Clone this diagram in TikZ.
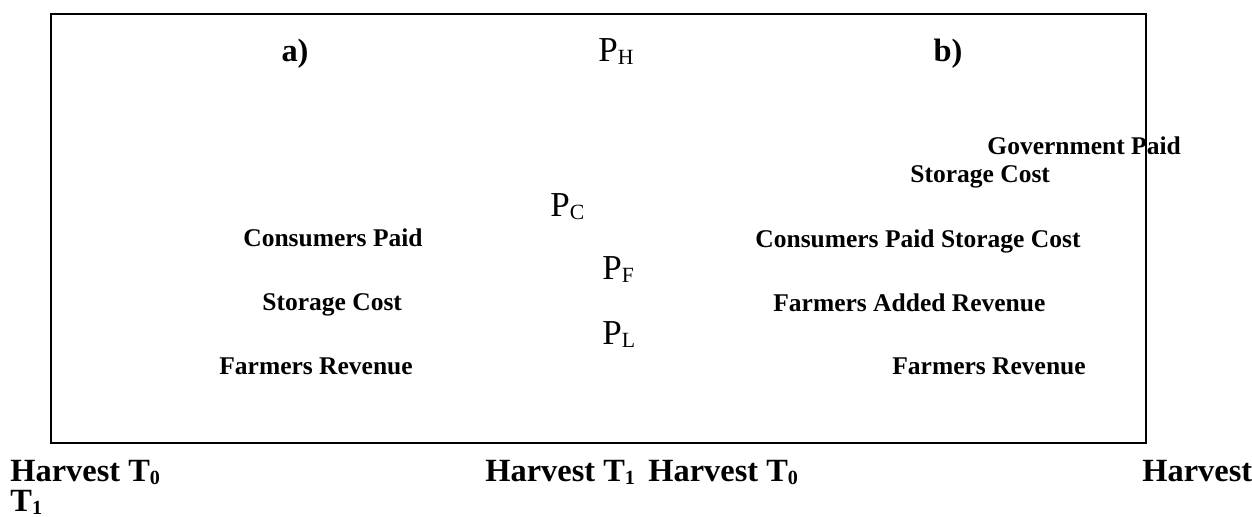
\documentclass[tikz,border=0pt]{standalone}
\usepackage{fontspec}
\setmainfont{Liberation Serif}
\usetikzlibrary{positioning}
\newcommand{\ind}[1]{\raisebox{-0.08em}{\scalebox{0.62}{#1}}}
\tikzset{
    etiqueta/.style={inner sep=0pt, anchor=base west, font=\fontsize{12.75}{15}\selectfont\bfseries},
    eixo/.style={inner sep=0pt, anchor=base west, font=\fontsize{16.2}{19}\selectfont\bfseries},
    preco/.style={inner sep=0pt, anchor=base west, font=\fontsize{17.5}{20}\selectfont},
}

\begin{document}
\begin{tikzpicture}[x=0.5pt, y=-0.5pt]
\useasboundingbox (0,0) rectangle (1252,517);
% frame
\draw[line width=0.75pt] (51,14) rectangle (1146,443);
% panel titles
\node[eixo, anchor=base] (tita) at (295,62) {a)};
\node[eixo, anchor=base] (titb) at (948,62) {b)};
% prices
\node[preco] (pH) at (598,62) {P\ind{H}};
\node[preco] (pC) at (550,217) {P\ind{C}};
\node[preco] (pF) at (602,280) {P\ind{F}};
\node[preco] (pL) at (602,345) {P\ind{L}};
% a)
\node[etiqueta] (consA) at (243,247) {Consumers Paid};
\node[etiqueta] (storA) at (262,311) {Storage Cost};
\node[etiqueta] (farmA) at (219,375) {Farmers Revenue};
% b)
\node[etiqueta] (govB) at (987,155) {Government Paid};
\node[etiqueta] (storB) at (910,183) {Storage Cost};
\node[etiqueta] (consB) at (755,248) {Consumers Paid Storage Cost};
\node[etiqueta] (addB) at (773,312) {Farmers Added Revenue};
\node[etiqueta] (farmB) at (892,375) {Farmers Revenue};
% time axis
\node[eixo] (hA0) at (10,482) {Harvest T\ind{0}};
\node[eixo] (hA1) at (485,482) {Harvest T\ind{1}};
\node[eixo] (hB0) at (648,482) {Harvest T\ind{0}};
\node[eixo] (hB1) at (1142,482) {Harvest};
\node[eixo] (hB1t) at (10,512) {T\ind{1}};
\end{tikzpicture}
\end{document}
